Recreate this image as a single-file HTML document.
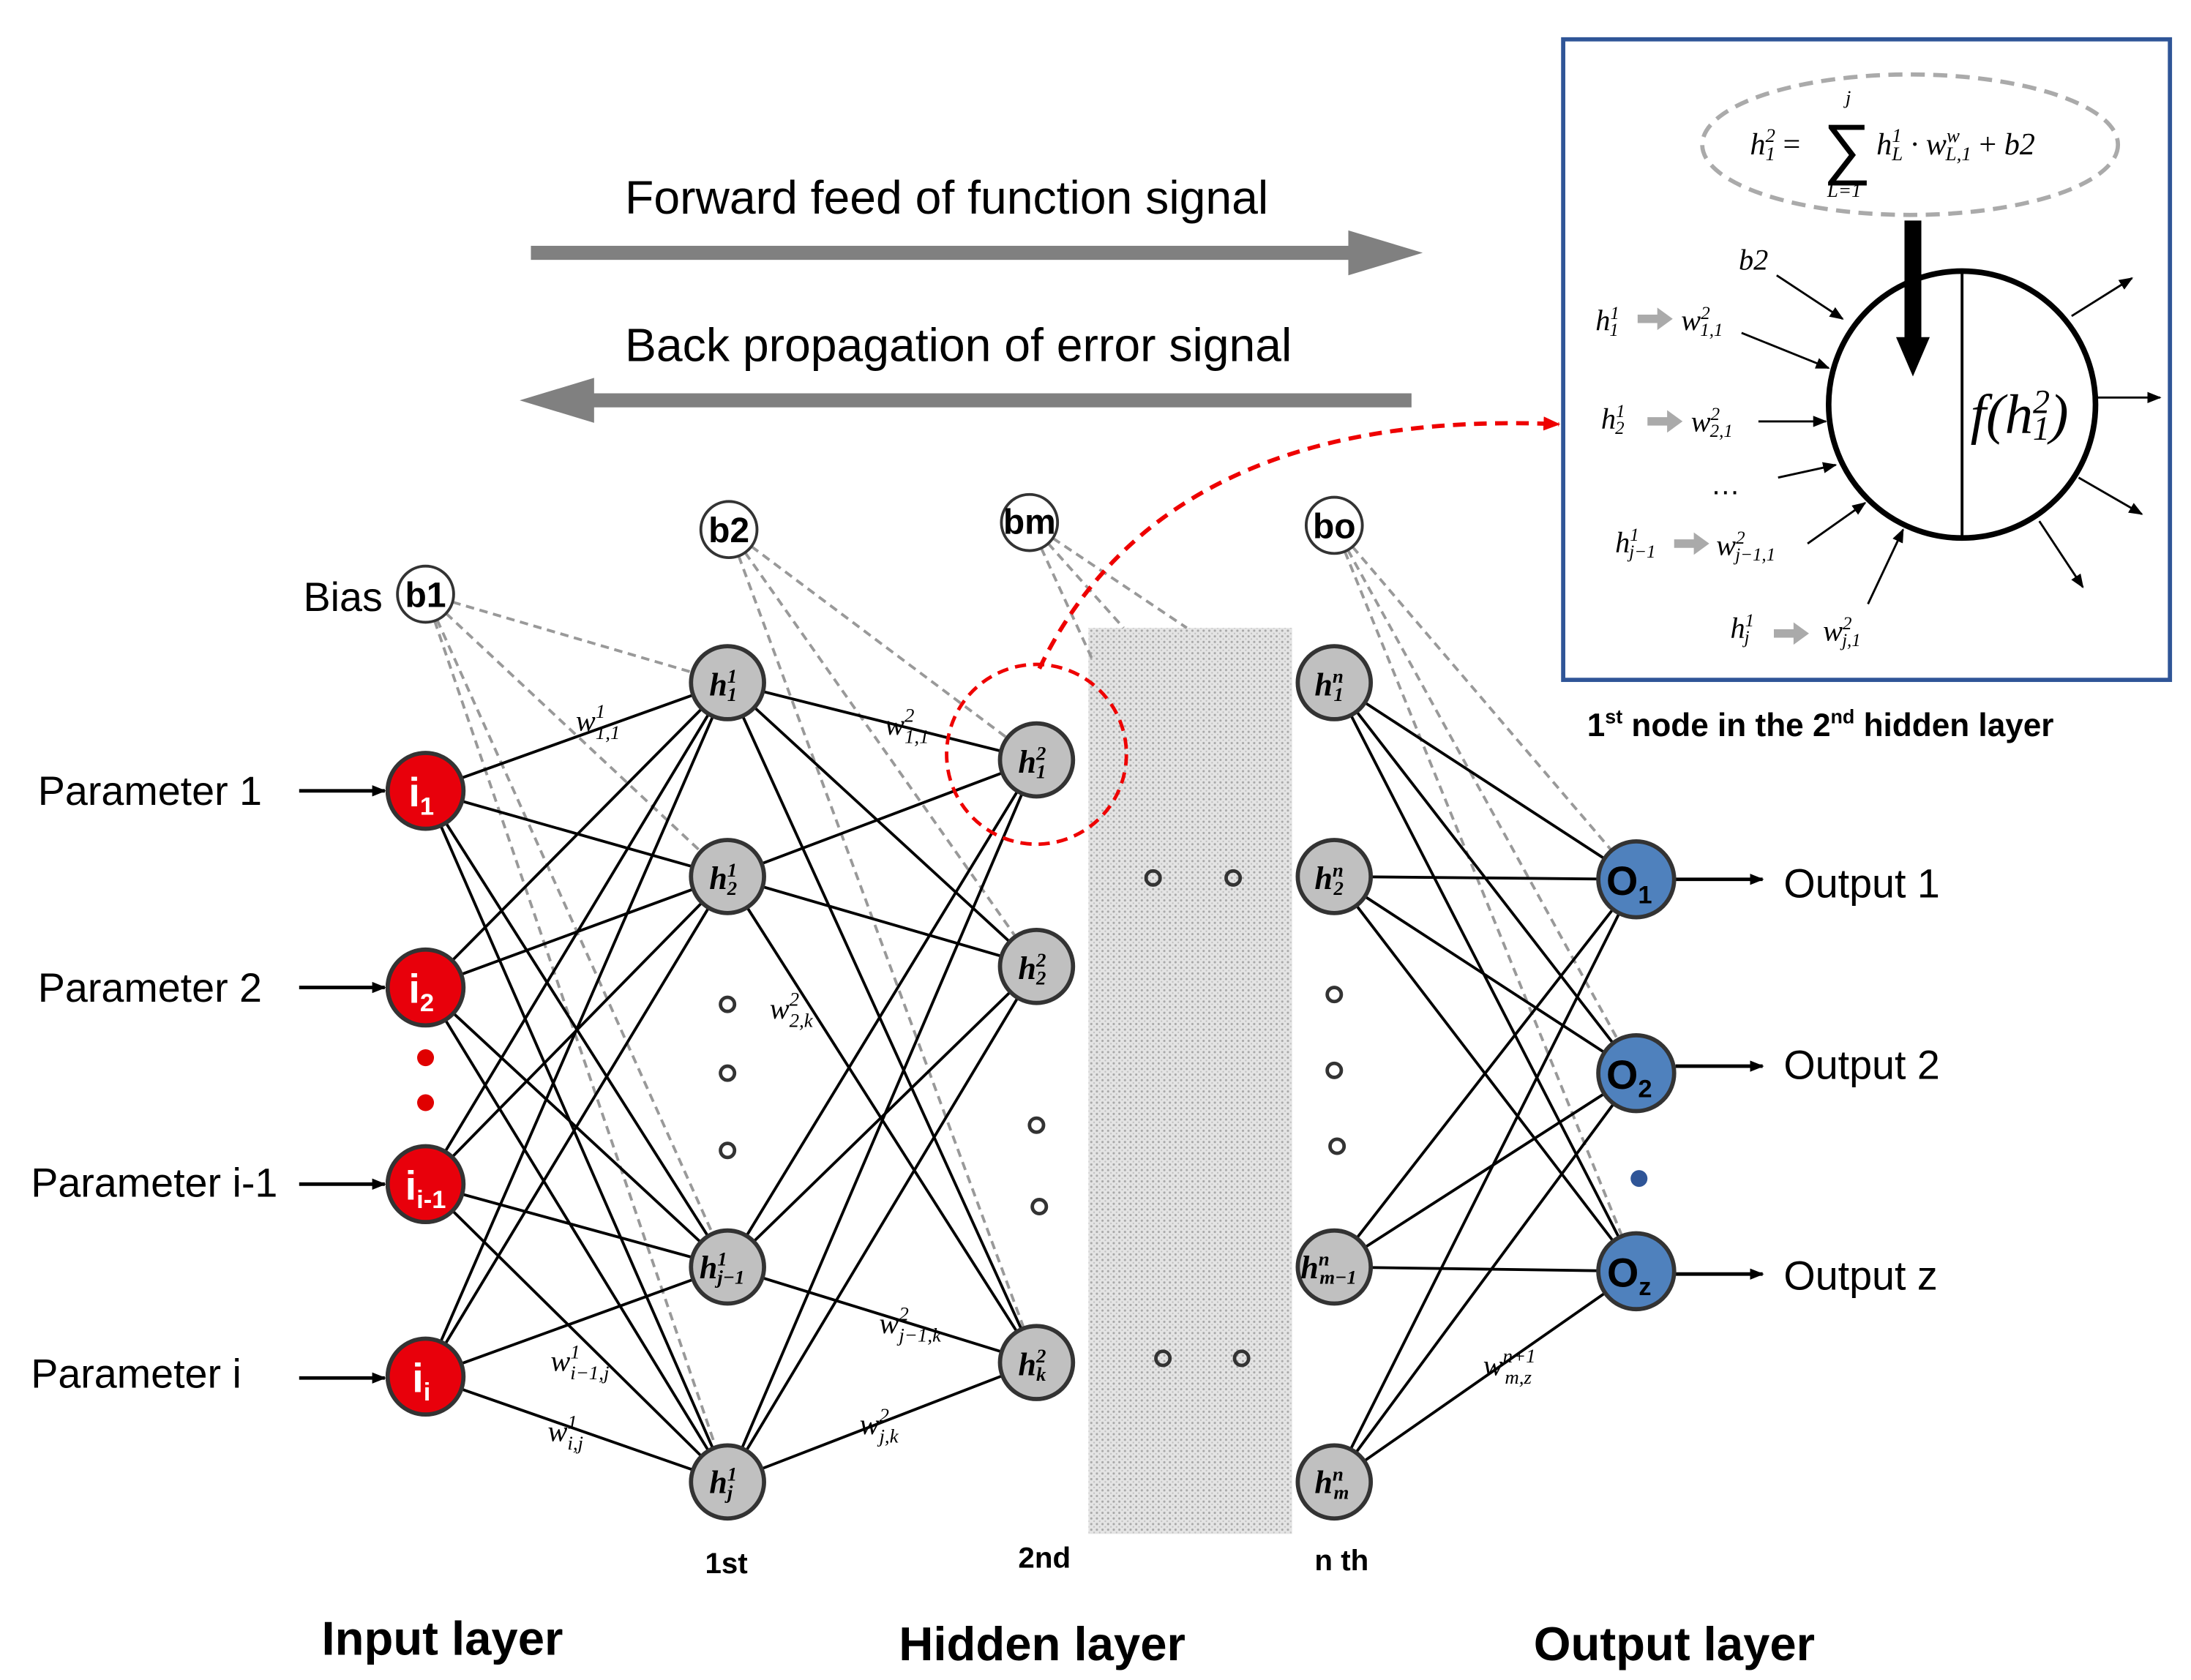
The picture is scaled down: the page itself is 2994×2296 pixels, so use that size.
<!DOCTYPE html>
<html><head><meta charset="utf-8"><style>
html,body{margin:0;padding:0;background:#fff}
svg{display:block}
text{font-family:"Liberation Sans",sans-serif}
.m{font-family:"Liberation Serif",serif;font-style:italic}
</style></head><body>
<svg width="2994" height="2296" viewBox="0 0 1560 1196" preserveAspectRatio="none" xmlns="http://www.w3.org/2000/svg">
<defs>
<pattern id="dots" width="4" height="4" patternUnits="userSpaceOnUse">
<rect width="4" height="4" fill="#e4e4e4"/><circle cx="1" cy="1" r="0.8" fill="#a8a8a8"/><circle cx="3" cy="3" r="0.6" fill="#c0c0c0"/>
</pattern>
<marker id="ah" markerWidth="10" markerHeight="8" refX="9" refY="4" orient="auto" markerUnits="userSpaceOnUse"><path d="M0,0 L10,4 L0,8 Z" fill="#000"/></marker>
<marker id="ahr" markerWidth="12" markerHeight="10" refX="11" refY="5" orient="auto" markerUnits="userSpaceOnUse"><path d="M0,0 L12,5 L0,10 Z" fill="#e00"/></marker>
</defs>
<rect width="1560" height="1196" fill="#fff"/>

<rect x="378" y="175" width="585" height="10" fill="#808080"/>
<polygon points="960,164 1013,180 960,196" fill="#808080"/>
<rect x="420" y="280" width="585" height="10" fill="#808080"/>
<polygon points="423,269 370,285 423,301" fill="#808080"/>
<text x="445" y="152" font-size="33.5">Forward feed of function signal</text>
<text x="445" y="257" font-size="33.5">Back propagation of error signal</text>

<rect x="775" y="447" width="145" height="645" fill="url(#dots)"/>

<g stroke="#999" stroke-width="2" stroke-dasharray="6,4" fill="none">
<line x1="303" y1="423" x2="518" y2="486"/>
<line x1="303" y1="423" x2="518" y2="624"/>
<line x1="303" y1="423" x2="518" y2="902"/>
<line x1="303" y1="423" x2="518" y2="1055"/>
<line x1="519" y1="377" x2="738" y2="541"/>
<line x1="519" y1="377" x2="738" y2="688"/>
<line x1="519" y1="377" x2="738" y2="970"/>
<line x1="733" y1="372" x2="845" y2="447"/>
<line x1="733" y1="372" x2="800" y2="447"/>
<line x1="733" y1="372" x2="778" y2="470"/>
<line x1="950" y1="374" x2="1165" y2="626"/>
<line x1="950" y1="374" x2="1165" y2="764"/>
<line x1="950" y1="374" x2="1165" y2="905"/>
</g>

<g stroke="#000" stroke-width="2">
<line x1="303" y1="563" x2="518" y2="486"/><line x1="303" y1="563" x2="518" y2="624"/><line x1="303" y1="563" x2="518" y2="902"/><line x1="303" y1="563" x2="518" y2="1055"/>
<line x1="303" y1="703" x2="518" y2="486"/><line x1="303" y1="703" x2="518" y2="624"/><line x1="303" y1="703" x2="518" y2="902"/><line x1="303" y1="703" x2="518" y2="1055"/>
<line x1="303" y1="843" x2="518" y2="486"/><line x1="303" y1="843" x2="518" y2="624"/><line x1="303" y1="843" x2="518" y2="902"/><line x1="303" y1="843" x2="518" y2="1055"/>
<line x1="303" y1="980" x2="518" y2="486"/><line x1="303" y1="980" x2="518" y2="624"/><line x1="303" y1="980" x2="518" y2="902"/><line x1="303" y1="980" x2="518" y2="1055"/>
<line x1="518" y1="486" x2="738" y2="541"/><line x1="518" y1="486" x2="738" y2="688"/><line x1="518" y1="486" x2="738" y2="970"/>
<line x1="518" y1="624" x2="738" y2="541"/><line x1="518" y1="624" x2="738" y2="688"/><line x1="518" y1="624" x2="738" y2="970"/>
<line x1="518" y1="902" x2="738" y2="541"/><line x1="518" y1="902" x2="738" y2="688"/><line x1="518" y1="902" x2="738" y2="970"/>
<line x1="518" y1="1055" x2="738" y2="541"/><line x1="518" y1="1055" x2="738" y2="688"/><line x1="518" y1="1055" x2="738" y2="970"/>
<line x1="950" y1="486" x2="1165" y2="626"/><line x1="950" y1="486" x2="1165" y2="764"/><line x1="950" y1="486" x2="1165" y2="905"/>
<line x1="950" y1="624" x2="1165" y2="626"/><line x1="950" y1="624" x2="1165" y2="764"/><line x1="950" y1="624" x2="1165" y2="905"/>
<line x1="950" y1="902" x2="1165" y2="626"/><line x1="950" y1="902" x2="1165" y2="764"/><line x1="950" y1="902" x2="1165" y2="905"/>
<line x1="950" y1="1055" x2="1165" y2="626"/><line x1="950" y1="1055" x2="1165" y2="764"/><line x1="950" y1="1055" x2="1165" y2="905"/>
</g>
<g stroke="#000" stroke-width="2.5" marker-end="url(#ah)">
<line x1="213" y1="563" x2="274" y2="563"/>
<line x1="213" y1="703" x2="274" y2="703"/>
<line x1="213" y1="843" x2="274" y2="843"/>
<line x1="213" y1="981" x2="274" y2="981"/>
<line x1="1193" y1="626" x2="1255" y2="626"/>
<line x1="1193" y1="759" x2="1255" y2="759"/>
<line x1="1193" y1="907" x2="1255" y2="907"/>
</g>

<g font-size="21" fill="#000">
<text x="410" y="520" class="m">w<tspan font-size="14" dy="-9">1</tspan><tspan font-size="14" dx="-7" dy="15">1,1</tspan></text>
<text x="630" y="523" class="m">w<tspan font-size="14" dy="-9">2</tspan><tspan font-size="14" dx="-7" dy="15">1,1</tspan></text>
<text x="548" y="725" class="m">w<tspan font-size="14" dy="-9">2</tspan><tspan font-size="14" dx="-7" dy="15">2,k</tspan></text>
<text x="626" y="949" class="m">w<tspan font-size="14" dy="-9">2</tspan><tspan font-size="14" dx="-7" dy="15">j−1,k</tspan></text>
<text x="612" y="1021" class="m">w<tspan font-size="14" dy="-9">2</tspan><tspan font-size="14" dx="-7" dy="15">j,k</tspan></text>
<text x="392" y="976" class="m">w<tspan font-size="14" dy="-9">1</tspan><tspan font-size="14" dx="-7" dy="15">i−1,j</tspan></text>
<text x="390" y="1026" class="m">w<tspan font-size="14" dy="-9">1</tspan><tspan font-size="14" dx="-7" dy="15">i,j</tspan></text>
<text x="1056" y="979" class="m">w<tspan font-size="14" dy="-9">n+1</tspan><tspan font-size="14" dx="-22" dy="15">m,z</tspan></text>
</g>

<g fill="none" stroke="#333" stroke-width="2.5">
<circle cx="518" cy="715" r="5"/><circle cx="518" cy="764" r="5"/><circle cx="518" cy="819" r="5"/>
<circle cx="738" cy="801" r="5"/><circle cx="740" cy="859" r="5"/>
<circle cx="821" cy="625" r="5"/><circle cx="878" cy="625" r="5"/>
<circle cx="828" cy="967" r="5"/><circle cx="884" cy="967" r="5"/>
<circle cx="950" cy="708" r="5"/><circle cx="950" cy="762" r="5"/><circle cx="952" cy="816" r="5"/>
</g>
<circle cx="303" cy="753" r="6" fill="#e00000"/><circle cx="303" cy="785" r="6" fill="#e00000"/>
<circle cx="1167" cy="839" r="6" fill="#2f5597"/>

<g stroke="#333" stroke-width="3">
<g fill="#e8000b"><circle cx="303" cy="563" r="27"/><circle cx="303" cy="703" r="27"/><circle cx="303" cy="843" r="27"/><circle cx="303" cy="980" r="27"/></g>
<g fill="#c0c0c0"><circle cx="518" cy="486" r="26"/><circle cx="518" cy="624" r="26"/><circle cx="518" cy="902" r="26"/><circle cx="518" cy="1055" r="26"/>
<circle cx="738" cy="541" r="26"/><circle cx="738" cy="688" r="26"/><circle cx="738" cy="970" r="26"/>
<circle cx="950" cy="486" r="26"/><circle cx="950" cy="624" r="26"/><circle cx="950" cy="902" r="26"/><circle cx="950" cy="1055" r="26"/></g>
<g fill="#4f81bd"><circle cx="1165" cy="626" r="27"/><circle cx="1165" cy="764" r="27"/><circle cx="1165" cy="905" r="27"/></g>
<g fill="#fff" stroke-width="2"><circle cx="303" cy="423" r="20"/><circle cx="519" cy="377" r="20"/><circle cx="733" cy="372" r="20"/><circle cx="950" cy="374" r="20"/></g>
</g>
<g font-weight="bold" font-size="25" text-anchor="middle" fill="#000">
<text x="303" y="432">b1</text><text x="519" y="386">b2</text><text x="733" y="380">bm</text><text x="950" y="383">bo</text>
</g>
<g font-weight="bold" font-size="29" fill="#fff" text-anchor="middle">
<text x="300" y="574">i<tspan font-size="18" dy="6">1</tspan></text>
<text x="300" y="714">i<tspan font-size="18" dy="6">2</tspan></text>
<text x="303" y="854">i<tspan font-size="18" dy="6">i-1</tspan></text>
<text x="300" y="991">i<tspan font-size="18" dy="6">i</tspan></text>
<text x="1160" y="637" fill="#000">O<tspan font-size="18" dy="6">1</tspan></text>
<text x="1160" y="775" fill="#000">O<tspan font-size="18" dy="6">2</tspan></text>
<text x="1160" y="916" fill="#000">O<tspan font-size="18" dy="6">z</tspan></text>
</g>
<g font-weight="bold" font-size="23" fill="#000">
<text x="505" y="495" class="m">h<tspan font-size="14" dy="-9">1</tspan><tspan font-size="14" dx="-7" dy="13">1</tspan></text>
<text x="505" y="633" class="m">h<tspan font-size="14" dy="-9">1</tspan><tspan font-size="14" dx="-7" dy="13">2</tspan></text>
<text x="498" y="910" class="m">h<tspan font-size="14" dy="-9">1</tspan><tspan font-size="14" dx="-7" dy="13">j−1</tspan></text>
<text x="505" y="1063" class="m">h<tspan font-size="14" dy="-9">1</tspan><tspan font-size="14" dx="-7" dy="13">j</tspan></text>
<text x="725" y="550" class="m">h<tspan font-size="14" dy="-9">2</tspan><tspan font-size="14" dx="-7" dy="13">1</tspan></text>
<text x="725" y="697" class="m">h<tspan font-size="14" dy="-9">2</tspan><tspan font-size="14" dx="-7" dy="13">2</tspan></text>
<text x="725" y="979" class="m">h<tspan font-size="14" dy="-9">2</tspan><tspan font-size="14" dx="-7" dy="13">k</tspan></text>
<text x="936" y="495" class="m">h<tspan font-size="14" dy="-9">n</tspan><tspan font-size="14" dx="-7" dy="13">1</tspan></text>
<text x="936" y="633" class="m">h<tspan font-size="14" dy="-9">n</tspan><tspan font-size="14" dx="-7" dy="13">2</tspan></text>
<text x="926" y="910" class="m">h<tspan font-size="14" dy="-9">n</tspan><tspan font-size="14" dx="-7" dy="13">m−1</tspan></text>
<text x="936" y="1063" class="m">h<tspan font-size="14" dy="-9">n</tspan><tspan font-size="14" dx="-7" dy="13">m</tspan></text>
</g>

<g font-size="29" fill="#000">
<text x="216" y="435">Bias</text>
<text x="27" y="573">Parameter 1</text>
<text x="27" y="713">Parameter 2</text>
<text x="22" y="852">Parameter i-1</text>
<text x="22" y="988">Parameter i</text>
<text x="1270" y="639">Output 1</text>
<text x="1270" y="768">Output 2</text>
<text x="1270" y="918">Output z</text>
</g>
<g font-weight="bold" font-size="21" fill="#000">
<text x="502" y="1120">1st</text><text x="725" y="1116">2nd</text><text x="936" y="1118">n th</text>
</g>
<g font-weight="bold" font-size="34" fill="#000">
<text x="229" y="1178">Input layer</text>
<text x="640" y="1182">Hidden layer</text>
<text x="1092" y="1182">Output layer</text>
</g>

<circle cx="738" cy="537" r="64" fill="none" stroke="#e00" stroke-width="2.5" stroke-dasharray="8,5"/>
<path d="M740,476 Q830,290 1110,302" fill="none" stroke="#e00" stroke-width="3" stroke-dasharray="9,6" marker-end="url(#ahr)"/>

<rect x="1113" y="28" width="432" height="456" fill="#fff" stroke="#2f5597" stroke-width="3"/>
<ellipse cx="1360" cy="103" rx="148" ry="50" fill="none" stroke="#aaa" stroke-width="3" stroke-dasharray="10,6"/>
<g font-size="22" fill="#000">
<text x="1246" y="110" class="m">h<tspan font-size="14" dy="-9">2</tspan><tspan font-size="14" dx="-7" dy="13">1</tspan><tspan dy="-4" font-style="normal"> = </tspan></text>
<text x="1298" y="122" font-size="48" font-family="DejaVu Serif,serif">∑</text>
<text x="1314" y="74" font-size="14" class="m">j</text>
<text x="1301" y="140" font-size="14" class="m">L=1</text>
<text x="1336" y="110" class="m">h<tspan font-size="14" dy="-9">1</tspan><tspan font-size="14" dx="-7" dy="13">L</tspan><tspan dy="-4"> · w</tspan><tspan font-size="14" dy="-9">w</tspan><tspan font-size="14" dx="-10" dy="13">L,1</tspan><tspan dy="-4" font-style="normal"> + </tspan>b2</text>
</g>
<rect x="1356" y="157" width="12" height="85" fill="#000"/>
<polygon points="1350,240 1374,240 1362,268" fill="#000"/>
<circle cx="1397" cy="288" r="95" fill="none" stroke="#000" stroke-width="4"/>
<line x1="1397" y1="193" x2="1397" y2="383" stroke="#000" stroke-width="2"/>
<text x="1403" y="308" class="m" font-size="40">f(h<tspan font-size="24" dy="-14">2</tspan><tspan font-size="24" dx="-12" dy="19">1</tspan><tspan dy="-5">)</tspan></text>
<g stroke="#000" stroke-width="1.5" marker-end="url(#ah)">
<line x1="1265" y1="196" x2="1312" y2="227"/>
<line x1="1240" y1="237" x2="1302" y2="262"/>
<line x1="1252" y1="300" x2="1300" y2="300"/>
<line x1="1266" y1="340" x2="1307" y2="331"/>
<line x1="1287" y1="387" x2="1328" y2="358"/>
<line x1="1330" y1="430" x2="1355" y2="377"/>
<line x1="1475" y1="225" x2="1518" y2="198"/>
<line x1="1492" y1="283" x2="1538" y2="283"/>
<line x1="1480" y1="340" x2="1525" y2="366"/>
<line x1="1452" y1="371" x2="1483" y2="418"/>
</g>
<g font-size="21" fill="#000">
<text x="1238" y="192" class="m">b2</text>
<text x="1136" y="235" class="m">h<tspan font-size="13" dy="-8">1</tspan><tspan font-size="13" dx="-7" dy="12">1</tspan></text>
<text x="1197" y="235" class="m">w<tspan font-size="13" dy="-8">2</tspan><tspan font-size="13" dx="-7" dy="12">1,1</tspan></text>
<text x="1140" y="305" class="m">h<tspan font-size="13" dy="-8">1</tspan><tspan font-size="13" dx="-7" dy="12">2</tspan></text>
<text x="1204" y="307" class="m">w<tspan font-size="13" dy="-8">2</tspan><tspan font-size="13" dx="-7" dy="12">2,1</tspan></text>
<text x="1218" y="352">…</text>
<text x="1150" y="393" class="m">h<tspan font-size="13" dy="-8">1</tspan><tspan font-size="13" dx="-7" dy="12">j−1</tspan></text>
<text x="1222" y="395" class="m">w<tspan font-size="13" dy="-8">2</tspan><tspan font-size="13" dx="-7" dy="12">j−1,1</tspan></text>
<text x="1232" y="454" class="m">h<tspan font-size="13" dy="-8">1</tspan><tspan font-size="13" dx="-7" dy="12">j</tspan></text>
<text x="1298" y="456" class="m">w<tspan font-size="13" dy="-8">2</tspan><tspan font-size="13" dx="-7" dy="12">j,1</tspan></text>
</g>
<g fill="#aaa">
<polygon points="1166,224 1180,224 1180,219 1191,227 1180,235 1180,230 1166,230"/>
<polygon points="1173,297 1187,297 1187,292 1198,300 1187,308 1187,303 1173,303"/>
<polygon points="1192,384 1206,384 1206,379 1217,387 1206,395 1206,390 1192,390"/>
<polygon points="1263,448 1277,448 1277,443 1288,451 1277,459 1277,454 1263,454"/>
</g>
<text x="1130" y="524" font-weight="bold" font-size="23" fill="#000">1<tspan font-size="14" dy="-9">st</tspan><tspan dy="9"> node in the 2</tspan><tspan font-size="14" dy="-9">nd</tspan><tspan dy="9"> hidden layer</tspan></text>
</svg>
</body></html>
